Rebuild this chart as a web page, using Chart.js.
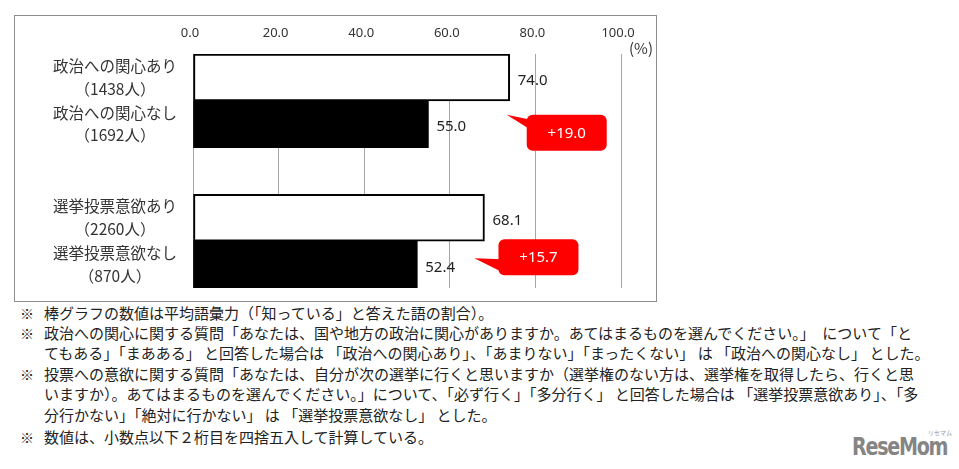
<!DOCTYPE html>
<html lang="ja">
<head>
<meta charset="utf-8">
<script src="https://cdn.jsdelivr.net/npm/chart.js@4.4.1/dist/chart.umd.min.js"></script>
<style>
  html, body { margin: 0; padding: 0; background: #fff; }
  body { width: 959px; height: 469px; position: relative; overflow: hidden;
         font-family: 'Noto Sans CJK JP', 'Noto Sans', sans-serif; color: #222; }
  #box { position: absolute; left: 14px; top: 15px; width: 643px; height: 287px;
         border: 1px solid #8c8c8c; box-sizing: border-box; }
  #wrap { position: absolute; left: 0; top: 0; width: 641px; height: 285px; }
  .note { position: absolute; left: 44px; font-size: 15px; line-height: 20px; white-space: nowrap; }
  .mark { position: absolute; left: 20px; font-size: 14px; line-height: 20px; }
  #logo { position: absolute; left: 852px; top: 434px; font-family: 'DejaVu Sans Condensed', 'DejaVu Sans', sans-serif;
          font-weight: bold; font-size: 25px; line-height: 25px; color: #858585; letter-spacing: -1.5px;
          transform: scaleX(0.85); transform-origin: left top; }
  #logo-kana { position: absolute; left: 928px; top: 428px; font-size: 6px; color: #999; }
</style>
</head>
<body>
<div id="box"><div id="wrap"><canvas id="vocabChart"></canvas></div></div>

<div id="notes"></div>
<div id="logo">ReseMom</div>
<div id="logo-kana">リセマム</div>

<script>
// Data
const categoryLabels = [
    ['政治への関心あり', '（1438人）'],
    ['政治への関心なし', '（1692人）'],
    '',
    ['選挙投票意欲あり', '（2260人）'],
    ['選挙投票意欲なし', '（870人）']
];
const scoreYes = [74.0, null, null, 68.1, null]; // 関心あり / 意欲あり
const scoreNo = [null, 55.0, null, null, 52.4];  // 関心なし / 意欲なし
const diffLabels = ['+19.0', '+15.7'];
const axisTicks = [0, 20, 40, 60, 80, 100];

const noteLines = [
    { mark: true,  text: '棒グラフの数値は平均語彙力（「知っている」と答えた語の割合）。' },
    { mark: true,  text: '政治への関心に関する質問「あなたは、国や地方の政治に関心がありますか。あてはまるものを選んでください。」　について「と' },
    { mark: false, text: 'てもある」「まあある」 と回答した場合は 「政治への関心あり」、「あまりない」「まったくない」 は 「政治への関心なし」 とした。' },
    { mark: true,  text: '投票への意欲に関する質問「あなたは、自分が次の選挙に行くと思いますか（選挙権のない方は、選挙権を取得したら、行くと思' },
    { mark: false, text: 'いますか）。あてはまるものを選んでください。」について、「必ず行く」「多分行く」 と回答した場合は 「選挙投票意欲あり」、「多' },
    { mark: false, text: '分行かない」「絶対に行かない」 は 「選挙投票意欲なし」 とした。' },
    { mark: true,  text: '数値は、小数点以下２桁目を四捨五入して計算している。' }
];
const noteTops = [303, 323, 343, 364, 384, 405, 427];

// Notes under the chart
const notesEl = document.getElementById('notes');
noteLines.forEach((line, i) => {
    if (line.mark) {
        const m = document.createElement('div');
        m.className = 'mark';
        m.style.top = noteTops[i] + 'px';
        m.textContent = '※';
        notesEl.appendChild(m);
    }
    const d = document.createElement('div');
    d.className = 'note';
    d.style.top = noteTops[i] + 'px';
    d.textContent = line.text;
    notesEl.appendChild(d);
});

const FONT_JP = "'Noto Sans CJK JP', 'Noto Sans', sans-serif";
const FONT_NUM = "'Noto Sans', sans-serif";

// value labels at the end of each bar
const valueLabels = {
    id: 'valueLabels',
    afterDatasetsDraw(chart) {
        const ctx = chart.ctx;
        ctx.save();
        ctx.font = '15px ' + FONT_NUM;
        ctx.fillStyle = '#222';
        ctx.textAlign = 'left';
        ctx.textBaseline = 'middle';
        chart.data.datasets.forEach((ds, di) => {
            chart.getDatasetMeta(di).data.forEach((bar, i) => {
                const v = ds.data[i];
                if (v == null) return;
                ctx.fillText(v.toFixed(1), bar.x + 8, bar.y + 3);
            });
        });
        ctx.restore();
    }
};

// red speech-bubble callouts with the difference
const calloutStyle = [
    { dx: 17, dy: 14, tipDx: -3, tipDy: 14, baseA: 5, baseB: 15 },
    { dx: 14, dy: -2, tipDx: -10, tipDy: 17, baseA: 20, baseB: 33 }
];
const callouts = {
    id: 'callouts',
    afterDatasetsDraw(chart) {
        const ctx = chart.ctx;
        const yesMeta = chart.getDatasetMeta(0).data;
        const noMeta = chart.getDatasetMeta(1).data;
        const yesIdx = [0, 3];
        ctx.save();
        diffLabels.forEach((label, k) => {
            const st = calloutStyle[k];
            const white = yesMeta[yesIdx[k]];
            const black = noMeta[yesIdx[k] + 1];
            const endX = white.x;
            const blackTop = black.y - black.height / 2;
            const bx = endX + st.dx, by = blackTop + st.dy, bw = 80, bh = 36;
            ctx.fillStyle = '#ff0000';
            ctx.beginPath();
            ctx.roundRect(bx, by, bw, bh, 6);
            ctx.fill();
            ctx.beginPath();
            ctx.moveTo(endX + st.tipDx, blackTop + st.tipDy);
            ctx.lineTo(bx + 4, by + st.baseA);
            ctx.lineTo(bx + 4, by + st.baseB);
            ctx.closePath();
            ctx.fill();
            ctx.fillStyle = '#fff';
            ctx.font = '15px ' + FONT_NUM;
            ctx.textAlign = 'center';
            ctx.textBaseline = 'middle';
            ctx.fillText(label, bx + bw / 2, by + bh / 2 + 1);
        });
        ctx.restore();
    }
};

// unit label next to the top axis
const unitLabel = {
    id: 'unitLabel',
    afterDraw(chart) {
        const ctx = chart.ctx;
        ctx.save();
        ctx.font = '15px ' + FONT_JP;
        ctx.fillStyle = '#333';
        ctx.textAlign = 'left';
        ctx.textBaseline = 'middle';
        ctx.fillText('(%)', chart.chartArea.right + 8, chart.chartArea.top - 6);
        ctx.restore();
    }
};

const ctx = document.getElementById('vocabChart').getContext('2d');
new Chart(ctx, {
    type: 'bar',
    data: {
        labels: categoryLabels,
        datasets: [{
            label: 'あり',
            data: scoreYes,
            backgroundColor: '#ffffff',
            borderColor: '#000000',
            borderWidth: 2,
            borderSkipped: false,
            grouped: false,
            barPercentage: 1,
            categoryPercentage: 1
        }, {
            label: 'なし',
            data: scoreNo,
            backgroundColor: '#000000',
            borderWidth: 0,
            grouped: false,
            barPercentage: 1,
            categoryPercentage: 1
        }]
    },
    options: {
        indexAxis: 'y',
        responsive: true,
        maintainAspectRatio: false,
        animation: false,
        layout: { padding: { left: 0, right: 35, top: 0, bottom: 13 } },
        plugins: {
            legend: { display: false },
            tooltip: { enabled: false }
        },
        scales: {
            x: {
                position: 'top',
                min: 0,
                max: 100,
                afterBuildTicks: (s) => { s.ticks = axisTicks.map(v => ({ value: v })); },
                afterFit: (s) => { s.height = 38; },
                grid: { color: '#a6a6a6', lineWidth: 1, drawTicks: false },
                border: { display: false },
                ticks: {
                    padding: 13,
                    labelOffset: -3,
                    color: '#333',
                    font: { size: 13, family: FONT_NUM },
                    callback: (v) => Number(v).toFixed(1)
                }
            },
            y: {
                afterFit: (s) => {
                    s.width = 178;
                    // labels sit inside their slots, no extra room needed
                    s.paddingTop = 0;
                    s.paddingBottom = 0;
                },
                grid: { display: false, drawTicks: false },
                border: { display: false },
                ticks: {
                    autoSkip: false,
                    crossAlign: 'center',
                    padding: 16,
                    color: '#333',
                    font: { size: 15.5, family: FONT_JP, lineHeight: 1.45 }
                }
            }
        }
    },
    plugins: [valueLabels, callouts, unitLabel]
});
</script>
</body>
</html>
